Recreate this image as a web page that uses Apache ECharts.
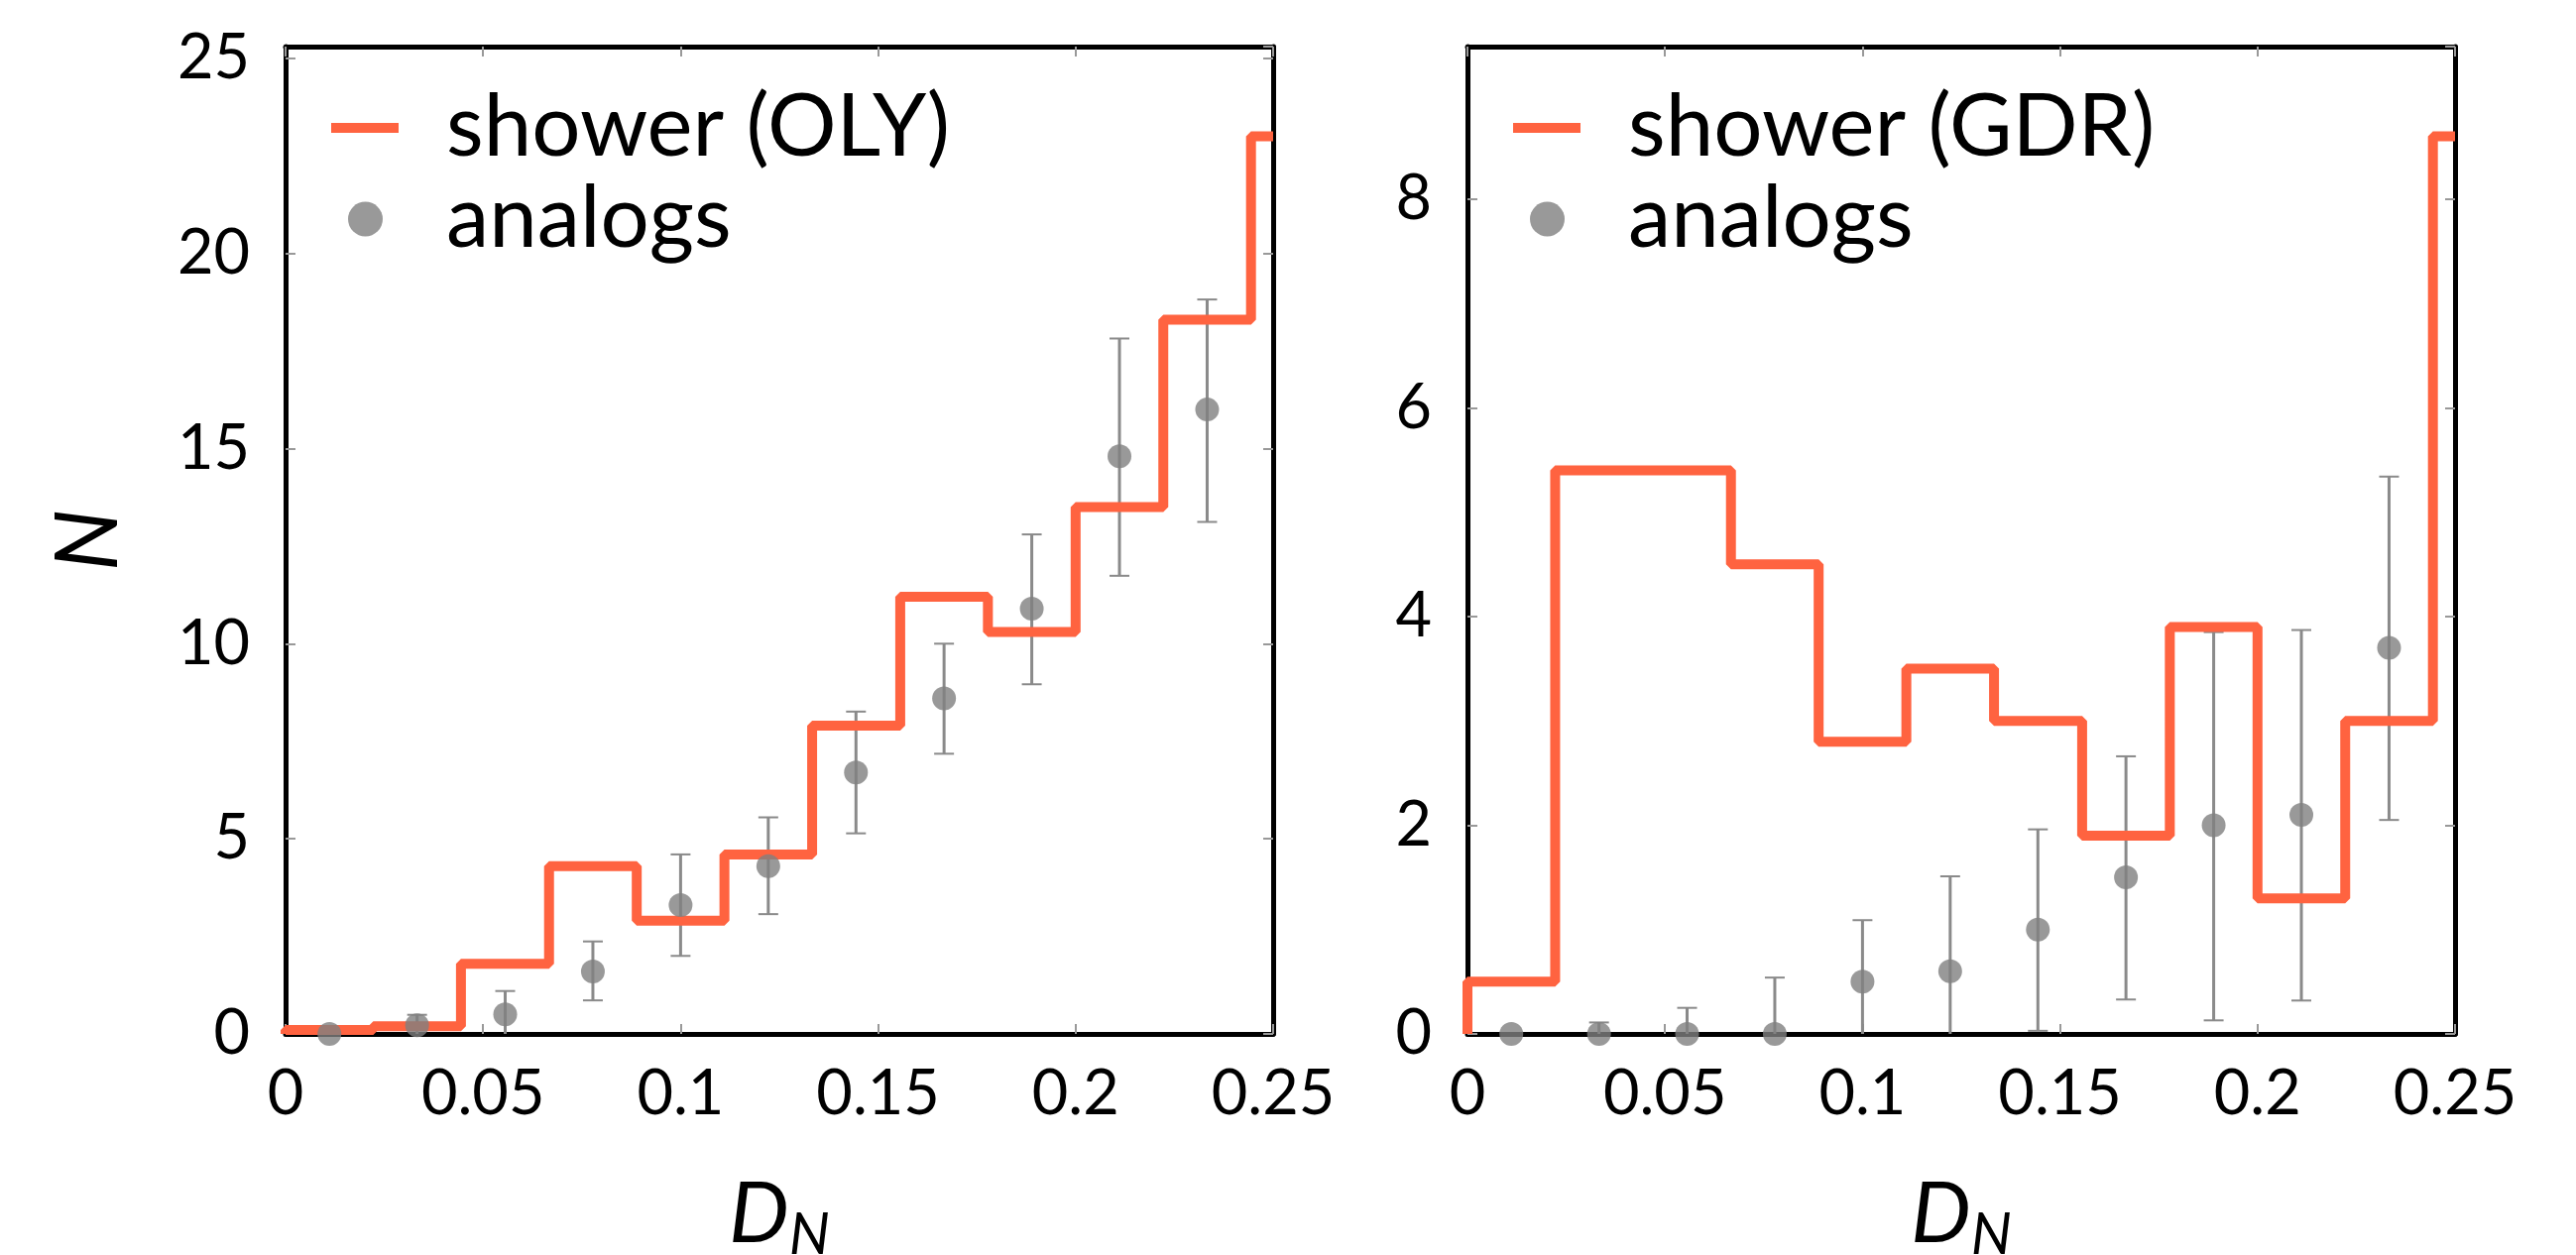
<!DOCTYPE html>
<html>
<head>
<meta charset="utf-8">
<script src="https://cdn.jsdelivr.net/npm/echarts@6/dist/echarts.min.js"></script>
<style>
  html, body { margin: 0; padding: 0; background: #fff; }
</style>
</head>
<body>
<div id="myChart" style="width: 2598px;height:1266px;"></div>
<script>
// bin edges / centres on the D_N axis
var binEdges = [0, 0.0222, 0.0444, 0.0667, 0.0889, 0.1111, 0.1333, 0.1556, 0.1778, 0.2, 0.2222, 0.2444, 0.25];
var binCentres = [0.0111, 0.0333, 0.0556, 0.0778, 0.1, 0.1222, 0.1444, 0.1667, 0.1889, 0.2111, 0.2333];

// left panel (OLY)
var olyShower = [0.1, 0.2, 1.8, 4.3, 2.9, 4.6, 7.9, 11.2, 10.3, 13.5, 18.3, 23];
var olyAnalogs = [0, 0.22, 0.5, 1.6, 3.3, 4.3, 6.7, 8.6, 10.9, 14.8, 16.0];
var olyLow = [0, -0.05, -0.1, 0.86, 2.0, 3.07, 5.14, 7.18, 8.96, 11.74, 13.12];
var olyHigh = [0, 0.49, 1.1, 2.37, 4.6, 5.55, 8.26, 10.0, 12.8, 17.82, 18.82];

// right panel (GDR)
var gdrShower = [0.5, 5.4, 5.4, 4.5, 2.8, 3.5, 3.0, 1.9, 3.9, 1.3, 3.0, 8.6];
var gdrAnalogs = [0, 0, 0, 0, 0.5, 0.6, 1.0, 1.5, 2.0, 2.1, 3.7];
var gdrLow = [0, -0.11, -0.25, -0.54, -0.1, -0.3, 0.03, 0.33, 0.13, 0.32, 2.05];
var gdrHigh = [0, 0.11, 0.25, 0.54, 1.09, 1.51, 1.96, 2.66, 3.85, 3.87, 5.34];

var xTicks = ["0", "0.05", "0.1", "0.15", "0.2", "0.25"];
var olyYMax = 25.3, gdrYMax = 9.46;

var FONT = "Lato";
var ORANGE = "#ff6340";
var GREY = "#808080";

function stepData(vals) {
  var d = [[binEdges[0], 0]];
  for (var i = 0; i < vals.length; i++) d.push([binEdges[i], vals[i]]);
  d.push([binEdges[binEdges.length - 1], vals[vals.length - 1]]);
  return d;
}
function pairs(xs, ys) {
  return ys.map(function (v, i) { return [xs[i], v]; });
}
function errData(lo, hi) {
  return lo.map(function (v, i) { return [binCentres[i], v, hi[i]]; });
}
function renderErr(params, api) {
  var x = api.value(0), lo = api.value(1), hi = api.value(2);
  if (hi === lo) return;
  var a = api.coord([x, hi]), b = api.coord([x, lo]);
  var w = 10;
  var st = { stroke: "#8a8a8a", lineWidth: 3 };
  var st2 = { stroke: "#8a8a8a", lineWidth: 2 };
  return {
    type: "group",
    children: [
      { type: "line", shape: { x1: a[0], y1: a[1], x2: b[0], y2: b[1] }, style: st },
      { type: "line", shape: { x1: a[0] - w, y1: a[1], x2: a[0] + w, y2: a[1] }, style: st2 },
      { type: "line", shape: { x1: b[0] - w, y1: b[1], x2: b[0] + w, y2: b[1] }, style: st2 }
    ]
  };
}

var frame = { show: true, onZero: false, lineStyle: { color: "#000", width: 5 } };
var tick = { show: true, inside: true, length: 10, lineStyle: { color: "#999", width: 2 } };
var labelFont = { fontFamily: FONT, fontSize: 63, color: "#000" };

function xAxes(gi) {
  return [
    {
      type: "value", gridIndex: gi, position: "bottom", min: 0, max: 0.25, interval: 0.05,
      axisLine: frame, axisTick: tick, splitLine: { show: false },
      axisLabel: Object.assign({ margin: 29, formatter: function (v, i) { return xTicks[i]; } }, labelFont),
      name: "{d|D}{n|N}", nameLocation: "middle", nameGap: 132, nameMoveOverlap: false,
      nameTextStyle: {
        rich: {
          d: { fontFamily: FONT, fontStyle: "italic", fontSize: 86, lineHeight: 100, color: "#000" },
          n: { fontFamily: FONT, fontStyle: "italic", fontSize: 58, lineHeight: 56, verticalAlign: "bottom", color: "#000" }
        }
      }
    },
    {
      type: "value", gridIndex: gi, position: "top", min: 0, max: 0.25, interval: 0.05,
      axisLine: frame, axisTick: tick, splitLine: { show: false }, axisLabel: { show: false }
    }
  ];
}
function yAxes(gi, max, interval, withName) {
  var left = {
    type: "value", gridIndex: gi, position: "left", min: 0, max: max, interval: interval,
    axisLine: frame, axisTick: tick, splitLine: { show: false },
    axisLabel: Object.assign({ margin: 36, showMaxLabel: false }, labelFont)
  };
  if (withName) {
    left.name = "N";
    left.nameLocation = "middle";
    left.nameRotate = 90;
    left.nameGap = 148;
    left.nameMoveOverlap = false;
    left.nameTextStyle = { fontFamily: FONT, fontStyle: "italic", fontSize: 88, lineHeight: 100, color: "#000" };
  }
  return [
    left,
    {
      type: "value", gridIndex: gi, position: "right", min: 0, max: max, interval: interval,
      axisLine: frame, axisTick: tick, splitLine: { show: false }, axisLabel: { show: false }
    }
  ];
}
function legends(offsetX, showerName) {
  var txt = { fontFamily: FONT, fontSize: 87, lineHeight: 90, color: "#000" };
  return [
    {
      data: [showerName], left: offsetX + 46, top: 77, padding: 0,
      icon: "rect", itemWidth: 68, itemHeight: 10,
      textStyle: Object.assign({ padding: [14, 0, 0, 43] }, txt)
    },
    {
      data: ["analogs"], left: offsetX + 63, top: 169, padding: 0,
      icon: "circle", itemWidth: 35, itemHeight: 35,
      textStyle: Object.assign({ padding: [14, 0, 0, 59] }, txt)
    }
  ];
}

var chart = echarts.init(document.getElementById("myChart"));
var option = {
  animation: false,
  backgroundColor: "#fff",
  grid: [
    { left: 288, top: 47, width: 996, height: 996, outerBoundsMode: "none" },
    { left: 1480, top: 47, width: 996, height: 996, outerBoundsMode: "none" }
  ],
  legend: legends(288, "shower (OLY)").concat(legends(1480, "shower (GDR)")),
  xAxis: xAxes(0).concat(xAxes(1)),
  yAxis: yAxes(0, olyYMax, 5, true).concat(yAxes(1, gdrYMax, 2, false)),
  series: [
    {
      name: "shower (OLY)", type: "line", step: "end", xAxisIndex: 0, yAxisIndex: 0,
      data: stepData(olyShower), showSymbol: false, color: ORANGE,
      lineStyle: { color: ORANGE, width: 10 }
    },
    {
      type: "custom", xAxisIndex: 0, yAxisIndex: 0, clip: true,
      data: errData(olyLow, olyHigh), renderItem: renderErr, z: 3
    },
    {
      name: "analogs", type: "scatter", xAxisIndex: 0, yAxisIndex: 0, clip: false,
      data: pairs(binCentres, olyAnalogs), symbolSize: 24, color: GREY, z: 4
    },
    {
      name: "shower (GDR)", type: "line", step: "end", xAxisIndex: 2, yAxisIndex: 2,
      data: stepData(gdrShower), showSymbol: false, color: ORANGE,
      lineStyle: { color: ORANGE, width: 10 }
    },
    {
      type: "custom", xAxisIndex: 2, yAxisIndex: 2, clip: true,
      data: errData(gdrLow, gdrHigh), renderItem: renderErr, z: 3
    },
    {
      name: "analogs", type: "scatter", xAxisIndex: 2, yAxisIndex: 2, clip: false,
      data: pairs(binCentres, gdrAnalogs), symbolSize: 24, color: GREY, z: 4
    }
  ]
};
chart.setOption(option);
</script>
</body>
</html>
